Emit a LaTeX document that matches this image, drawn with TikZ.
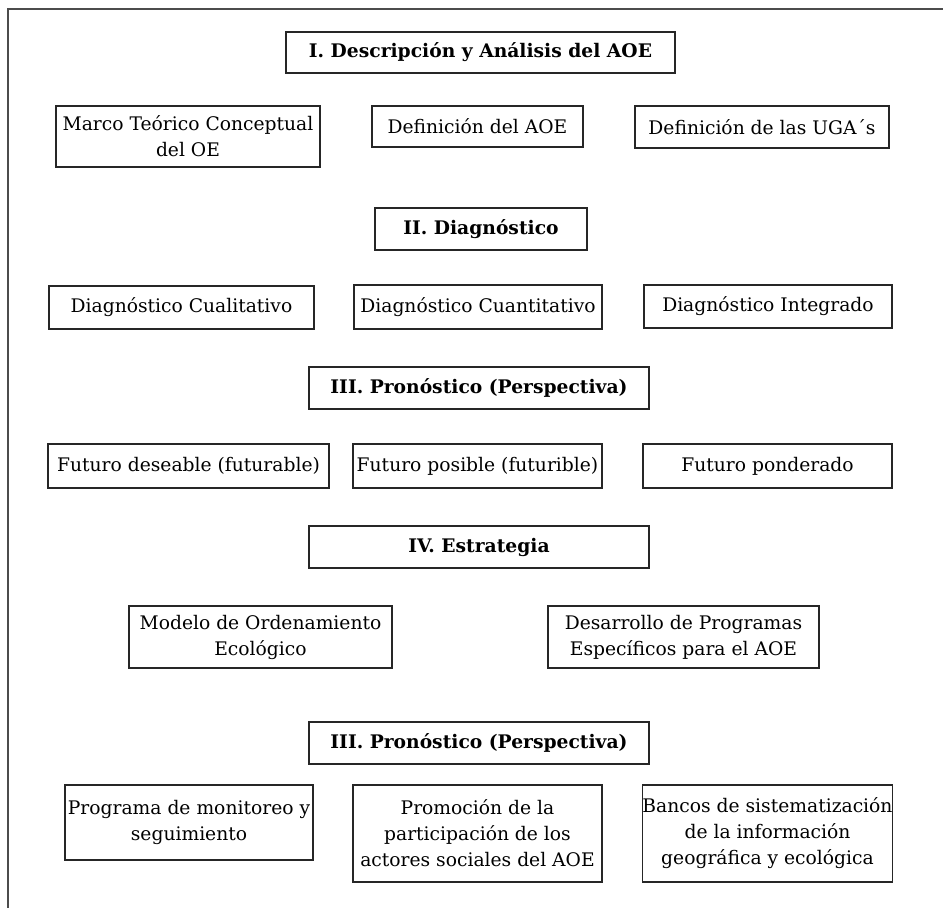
\documentclass[tikz,border=0pt]{standalone}
\usepackage{fontspec}
\setmainfont{DejaVu Serif}
\usepackage{tikz}

\begin{document}
\begin{tikzpicture}[x=0.025cm,y=-0.025cm,
    caja/.style={draw=black!85,line width=0.8pt,inner sep=0pt,align=center,
        font=\fontsize{13.3}{18.5}\selectfont},
    titulo/.style={caja,font=\fontsize{13.3}{18.5}\selectfont\bfseries},
    tam/.style 2 args={minimum width=#1*0.025cm,minimum height=#2*0.025cm}]
    \useasboundingbox (0,0) rectangle (943,908);
    \draw[black!70,line width=1pt] (943,9) -- (8,9) -- (8,908);

    % I
    \node[titulo,tam={389}{41}] (secI) at (480.5,52.5) {I. Descripción y Análisis del AOE};
    \node[caja,tam={264}{61}] (marco) at (188,136.5) {Marco Teórico Conceptual\\del OE};
    \node[caja,tam={211}{41}] (defaoe) at (477.5,126.5) {Definición del AOE};
    \node[caja,tam={254}{42}] (uga) at (762,127) {Definición de las UGA´s};

    % II
    \node[titulo,tam={212}{42}] (secII) at (481,229) {II. Diagnóstico};
    \node[caja,tam={265}{43}] (cuali) at (181.5,307.5) {Diagnóstico Cualitativo};
    \node[caja,tam={248}{44}] (cuanti) at (478,307) {Diagnóstico Cuantitativo};
    \node[caja,tam={248}{43}] (integ) at (768,306.5) {Diagnóstico Integrado};

    % III
    \node[titulo,tam={340}{42}] (secIII) at (479,388) {III. Pronóstico (Perspectiva)};
    \node[caja,tam={281}{44}] (deseable) at (188.5,466) {Futuro deseable (futurable)};
    \node[caja,tam={249}{44}] (posible) at (477.5,466) {Futuro posible (futurible)};
    \node[caja,tam={249}{44}] (ponder) at (767.5,466) {Futuro ponderado};

    % IV
    \node[titulo,tam={340}{42}] (secIV) at (479,547) {IV. Estrategia};
    \node[caja,tam={263}{62}] (modelo) at (260.5,637) {Modelo de Ordenamiento\\Ecológico};
    \node[caja,tam={271}{62}] (desarr) at (683.5,637) {Desarrollo de Programas\\Específicos para el AOE};

    % V
    \node[titulo,tam={340}{42}] (secV) at (479,743) {III. Pronóstico (Perspectiva)};
    \node[caja,tam={248}{75}] (progr) at (189,822.5) {Programa de monitoreo y\\seguimiento};
    \node[caja,tam={249}{97}] (promo) at (477.5,833.5) {Promoción de la\\participación de los\\actores sociales del AOE};
    \node[caja,tam={249}{97}] (bancos) at (767.5,833.5) {Bancos de sistematización\\de la información\\geográfica y ecológica};
\end{tikzpicture}
\end{document}
